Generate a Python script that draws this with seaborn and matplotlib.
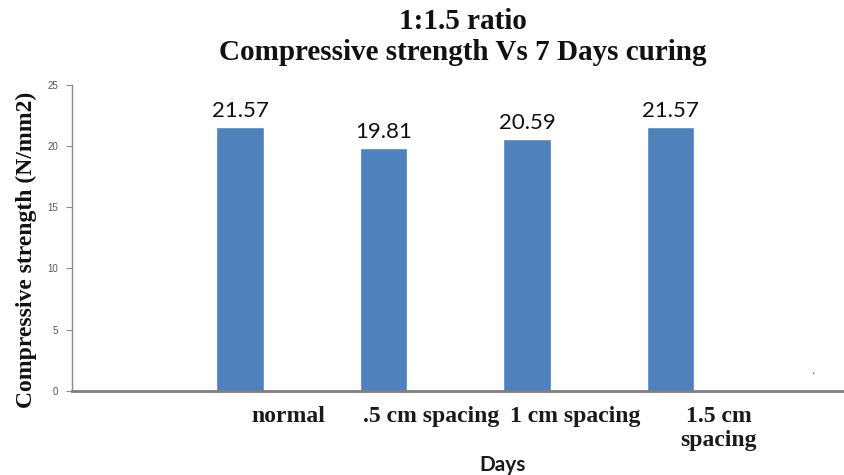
import numpy as np
import pandas as pd
import matplotlib
matplotlib.use('Agg')
import matplotlib.pyplot as plt
import matplotlib.transforms as mtransforms
import seaborn as sns

# data
categories = ['normal', '.5 cm spacing', '1 cm spacing', '1.5 cm\nspacing']
strength = [21.57, 19.81, 20.59, 21.57]
value_labels = ['21.57', '19.81', '20.59', '21.57']
y_ticks = [0, 5, 10, 15, 20, 25]

df = pd.DataFrame({'case': categories, 'strength': strength})

sns.set_style('white')
plt.rcParams['font.family'] = ['Liberation Serif', 'DejaVu Serif']

fig = plt.figure(figsize=(8.44, 4.75), dpi=100)
ax = fig.add_axes([0.0853, 0.1775, 0.9147, 0.6435])

sns.barplot(data=df, x='case', y='strength', order=categories,
            color='#4F81BD', saturation=1, width=0.33, ax=ax)

ax.set_xlim(-1.171, 4.209)
ax.set_ylim(0, 25)

# value labels above bars
for i, (v, lab) in enumerate(zip(strength, value_labels)):
    ax.text(i, v + 0.5, lab, ha='center', va='bottom', fontsize=16,
            family=['Lato', 'DejaVu Sans'], color='#111111')
ax.text(3.99, 1.1, '.', ha='center', va='bottom', fontsize=9, color='#555555')

# axes styling
for s in ['top', 'right']:
    ax.spines[s].set_visible(False)
ax.spines['left'].set_color('#8c8c8c')
ax.spines['left'].set_linewidth(1.0)
ax.spines['bottom'].set_color('#7f7f7f')
ax.spines['bottom'].set_linewidth(2.0)

ax.set_yticks(y_ticks)
ax.set_yticklabels([str(t) for t in y_ticks], fontsize=7, color='#555555',
                   family=['Liberation Sans', 'DejaVu Sans'])
ax.tick_params(axis='y', direction='out', length=4, width=0.8, color='#8c8c8c',
               left=True, pad=6)

# category labels shifted right as in the reference
ax.set_xticks(range(len(categories)))
ax.set_xticklabels(categories, fontsize=17, fontweight='bold', color='#1a1a1a',
                   linespacing=1.2)
ax.tick_params(axis='x', length=0, pad=11)
offset = mtransforms.ScaledTranslation(0.48, 0, fig.dpi_scale_trans)
for lbl in ax.get_xticklabels():
    lbl.set_transform(lbl.get_transform() + offset)
    lbl.set_verticalalignment('top')

ax.set_xlabel('')
ax.set_ylabel('Compressive strength (N/mm2)', fontsize=17, fontweight='bold',
              color='#111111')
ax.yaxis.set_label_coords(-0.045, 0.46)

fig.text(0.595, 0.021, 'Days', ha='center', va='center', fontsize=15,
         fontweight='bold', family=['Lato', 'DejaVu Sans'], color='#1a1a1a')

fig.text(0.548, 0.983, '1:1.5 ratio', ha='center', va='top', fontsize=21,
         fontweight='bold', color='#111111')
fig.text(0.548, 0.918, 'Compressive strength Vs 7 Days curing', ha='center',
         va='top', fontsize=21, fontweight='bold', color='#111111')

fig.savefig('out.png', dpi=100)
